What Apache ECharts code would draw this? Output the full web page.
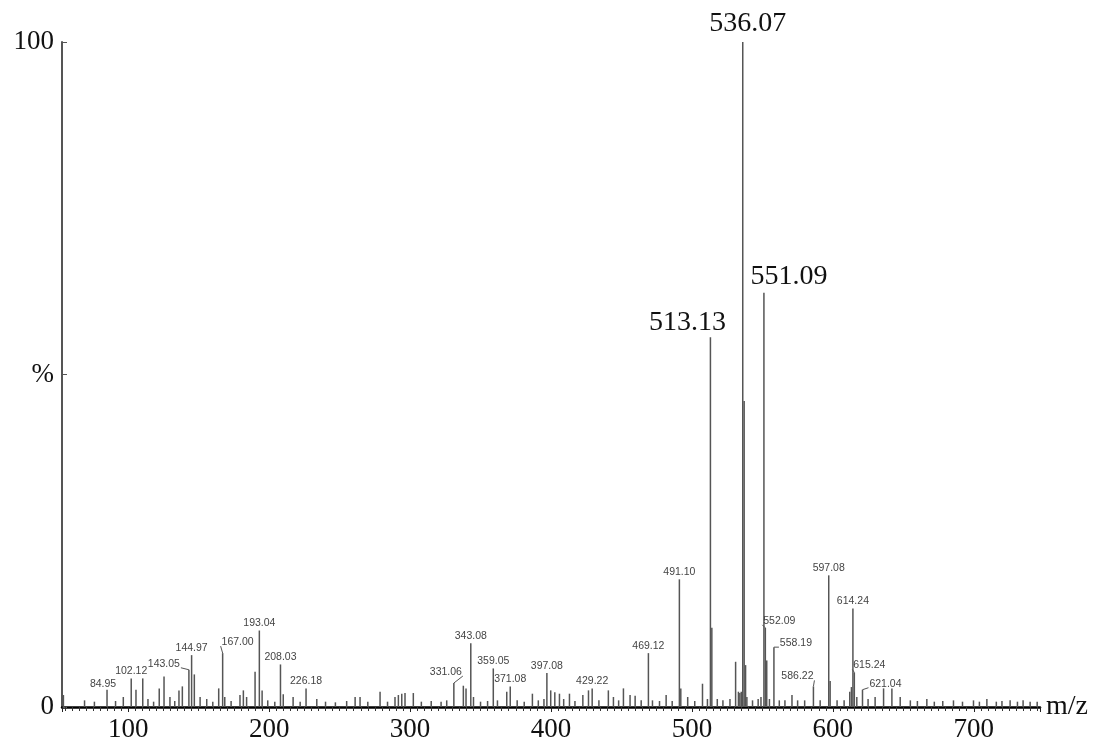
<!DOCTYPE html>
<html>
<head>
<meta charset="utf-8">
<title>MS spectrum</title>
<script src="https://cdn.jsdelivr.net/npm/echarts@6/dist/echarts.min.js"></script>
<style>
html, body { margin: 0; padding: 0; background: #fff; }
#main { width: 1096px; height: 742px; }
</style>
</head>
<body>
<div id="main"></div>
<script>
// peaks (m/z, relative intensity %)
var peakMz = [
  54.0, 69.0, 76.0, 84.95, 91.0, 96.5, 102.12, 105.5, 110.3, 114.0, 118.0, 122.0, 125.4, 129.6, 133.0,
  136.0, 138.4, 143.05, 144.97, 146.9, 151.0, 155.7, 160.0, 164.2, 167.00, 168.5, 173.0, 179.3, 181.7,
  184.0, 190.0, 193.04, 195.0, 199.0, 204.0, 208.03, 210.0, 217.0, 222.0, 226.18, 233.8, 240.0, 247.0,
  255.0, 261.0, 264.5, 270.0, 278.7, 284.0, 289.3, 291.7, 294.1, 296.4, 302.3, 308.0, 315.0, 322.0,
  326.0, 331.06, 337.8, 339.7, 343.08, 345.0, 350.0, 355.0, 359.05, 362.0, 368.6, 371.08, 376.0, 381.0,
  386.8, 391.0, 395.0, 397.08, 399.8, 402.7, 406.0, 409.0, 413.1, 417.0, 422.6, 426.6, 429.22, 434.0,
  440.7, 444.3, 448.0, 451.4, 456.1, 459.7, 464.0, 469.12, 472.0, 477.0, 481.7, 486.0, 491.10, 492.1,
  497.0, 502.0, 507.5, 511.0, 513.13, 514.13, 518.0, 522.0, 527.0, 531.0, 533.0, 534.0, 535.0, 536.07,
  537.07, 538.07, 539.0, 543.0, 547.0, 549.0, 551.09, 552.09, 553.09, 555.0, 558.19, 562.0, 566.0,
  571.0, 575.0, 580.0, 586.22, 591.0, 597.08, 598.08, 603.0, 608.0, 612.0, 613.2, 614.24, 615.24,
  617.0, 621.04, 625.0, 630.0, 636.0, 641.9, 647.8, 655.0, 660.0, 666.7, 672.0, 678.0, 685.6, 692.0,
  699.8, 704.0, 709.3, 716.0, 720.0, 725.8, 731.0, 735.0, 740.0, 745.0
];
var peakInt = [
  1.8, 1.0, 0.8, 2.6, 0.9, 1.5, 4.3, 2.6, 4.3, 1.2, 0.8, 2.8, 4.6, 1.5, 0.9,
  2.5, 3.1, 5.6, 7.8, 4.9, 1.5, 1.2, 0.8, 2.8, 8.1, 1.5, 0.9, 1.8, 2.5,
  1.5, 5.3, 11.5, 2.5, 1.0, 0.8, 6.4, 1.9, 1.5, 0.8, 2.8, 1.2, 0.8, 0.7,
  0.9, 1.5, 1.5, 0.8, 2.3, 0.8, 1.5, 1.8, 2.0, 2.1, 2.1, 0.8, 0.9, 0.8,
  1.0, 3.6, 3.2, 2.8, 9.6, 1.5, 0.8, 0.9, 5.8, 1.0, 2.3, 3.1, 1.0, 0.8,
  2.0, 1.0, 1.2, 5.1, 2.5, 2.2, 2.0, 1.2, 2.0, 0.9, 1.8, 2.5, 2.8, 1.0,
  2.5, 1.5, 1.0, 2.8, 1.8, 1.7, 1.0, 8.1, 1.0, 0.9, 1.8, 0.9, 19.2, 2.8,
  1.5, 0.9, 3.5, 1.2, 55.6, 11.9, 1.2, 1.0, 1.2, 6.8, 2.3, 2.1, 2.3, 100,
  46.0, 6.3, 1.5, 1.0, 1.2, 1.5, 62.3, 11.9, 7.0, 1.2, 9.0, 1.0, 1.0,
  1.8, 1.0, 1.0, 3.1, 1.0, 19.8, 3.9, 1.0, 1.0, 2.3, 3.0, 14.8, 5.2,
  1.5, 2.6, 1.2, 1.5, 2.8, 2.8, 1.5, 1.0, 0.9, 1.2, 0.8, 0.9, 1.0, 0.8,
  1.0, 0.8, 1.2, 0.8, 0.9, 1.0, 0.8, 1.0, 0.8, 0.8
];
// peaks carrying an m/z label
var labelMz = [
  84.95, 102.12, 143.05, 144.97, 167.00, 193.04, 208.03, 226.18, 331.06, 343.08, 359.05, 371.08,
  397.08, 429.22, 469.12, 491.10, 513.13, 536.07, 551.09, 552.09, 558.19, 586.22, 597.08, 614.24,
  615.24, 621.04
];
var bigLabels = [513.13, 536.07, 551.09];
var yTickText = ['0', '%', '100'];

// label offsets from the peak top in px, third item = draw leader line
var labelShift = {
  '84.95': [-4, -6],
  '143.05': [-25, -6, true],
  '167.00': [15, -11, true],
  '331.06': [-8, -11, true],
  '513.13': [-23, -15],
  '536.07': [5, -18],
  '551.09': [25, -16],
  '552.09': [14, -7, true],
  '558.19': [22, -4, true],
  '586.22': [-16, -10, true],
  '615.24': [15, -7, true],
  '621.04': [23, -6, true]
};

var peakData = peakMz.map(function (mz, i) { return [mz, peakInt[i]]; });
var labelData = labelMz.map(function (mz) { return [mz, peakInt[peakMz.indexOf(mz)]]; });

function renderPeak(params, api) {
  var base = api.coord([api.value(0), 0]);
  var top = api.coord([api.value(0), api.value(1)]);
  return {
    type: 'line',
    shape: { x1: base[0], y1: base[1], x2: top[0], y2: top[1] },
    style: { stroke: '#555', lineWidth: 1.5 }
  };
}

function renderLabel(params, api) {
  var mz = api.value(0);
  var key = mz.toFixed(2);
  var top = api.coord([mz, api.value(1)]);
  var big = bigLabels.indexOf(mz) >= 0;
  var shift = labelShift[key] || [0, -7];
  var tx = top[0] + shift[0];
  var ty = top[1] + shift[1];
  var children = [{
    type: 'text',
    x: tx,
    y: ty,
    style: {
      text: key,
      fill: big ? '#111' : '#444',
      fontFamily: big ? 'Liberation Serif' : 'Liberation Sans',
      fontSize: big ? 28 : 10.5,
      align: 'center',
      verticalAlign: 'middle'
    }
  }];
  if (shift[2]) {
    var side = shift[0] > 0 ? -1 : 1;
    children.push({
      type: 'polyline',
      shape: { points: [[top[0], top[1]], [tx + side * 17, ty + 4]] },
      style: { stroke: '#555', lineWidth: 1, fill: null }
    });
  }
  return { type: 'group', children: children };
}

var chart = echarts.init(document.getElementById('main'));
var option = {
  animation: false,
  backgroundColor: '#fff',
  grid: { left: 62, right: 56, top: 42, bottom: 35, outerBoundsMode: 'none' },
  xAxis: {
    type: 'value',
    min: 53,
    max: 747,
    splitNumber: 7,
    name: 'm/z',
    nameLocation: 'end',
    nameGap: 6,
    nameTextStyle: { fontFamily: 'Liberation Serif', fontSize: 28, color: '#111' },
    axisLine: { lineStyle: { color: '#000', width: 2.5 } },
    axisTick: { length: 5, lineStyle: { color: '#222', width: 1 } },
    minorTick: { show: true, splitNumber: 20, length: 4, lineStyle: { color: '#333', width: 1 } },
    axisLabel: {
      showMinLabel: false,
      showMaxLabel: false,
      fontFamily: 'Liberation Serif',
      fontSize: 27,
      color: '#111',
      margin: 9
    },
    splitLine: { show: false }
  },
  yAxis: {
    type: 'value',
    min: 0,
    max: 100,
    interval: 50,
    axisLine: { show: true, lineStyle: { color: '#555', width: 2 } },
    axisTick: { show: true, inside: true, length: 5, lineStyle: { color: '#555' } },
    axisLabel: {
      fontFamily: 'Liberation Serif',
      fontSize: 27,
      color: '#111',
      margin: 8,
      formatter: function (v) { return yTickText[v / 50]; }
    },
    splitLine: { show: false }
  },
  series: [
    {
      type: 'custom',
      renderItem: renderPeak,
      encode: { x: 0, y: 1 },
      data: peakData,
      z: 2
    },
    {
      type: 'custom',
      renderItem: renderLabel,
      encode: { x: 0, y: 1 },
      data: labelData,
      z: 3
    }
  ]
};
chart.setOption(option);
</script>
</body>
</html>
